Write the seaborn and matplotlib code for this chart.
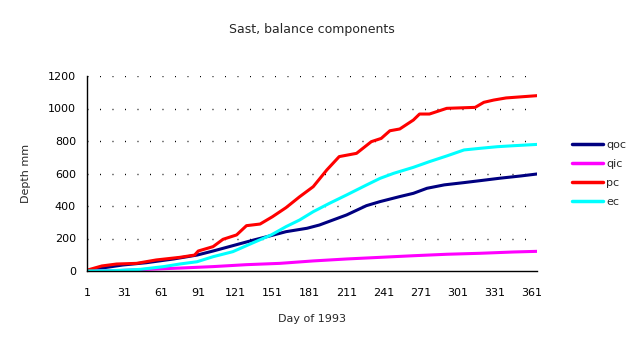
import matplotlib
matplotlib.use("Agg")
import matplotlib.pyplot as plt
import seaborn as sns
import pandas as pd

pc_day = [1, 13, 25, 41, 57, 76, 88, 91, 103, 111, 122, 130, 141, 151, 162, 173, 184, 195, 205, 219, 231, 239, 246, 254, 265, 270, 278, 292, 315, 322, 330, 340, 365]
pc_val = [5, 31, 43, 47, 68, 84, 98, 123, 150, 195, 222, 279, 289, 334, 390, 457, 519, 622, 704, 724, 796, 816, 863, 874, 929, 966, 966, 1001, 1007, 1038, 1052, 1065, 1079]

qoc_day = [1, 11, 30, 49, 71, 90, 103, 119, 136, 150, 162, 179, 189, 200, 211, 227, 238, 254, 265, 276, 290, 306, 319, 335, 352, 365]
qoc_val = [0, 16, 37, 51, 74, 98, 123, 156, 191, 218, 242, 263, 283, 314, 345, 402, 427, 458, 478, 509, 530, 544, 556, 571, 585, 597]

ec_day = [1, 22, 44, 63, 76, 90, 103, 119, 136, 150, 162, 173, 184, 197, 211, 227, 238, 249, 265, 278, 292, 306, 319, 333, 346, 365]
ec_val = [0, 2, 10, 27, 43, 57, 88, 119, 176, 222, 273, 314, 365, 416, 468, 529, 570, 601, 638, 673, 708, 745, 755, 765, 771, 779]

qic_day = [1, 25, 49, 76, 103, 130, 157, 184, 211, 238, 265, 292, 319, 346, 365]
qic_val = [0, 2, 10, 18, 27, 39, 47, 62, 74, 84, 94, 103, 109, 117, 121]

series = ["qoc", "qic", "pc", "ec"]
colors = ["#000080", "#FF00FF", "#FF0000", "#00FFFF"]
x_ticks = list(range(1, 362, 30))
y_ticks = list(range(0, 1201, 200))

frames = []
for name, d, v in [("qoc", qoc_day, qoc_val), ("qic", qic_day, qic_val),
                   ("pc", pc_day, pc_val), ("ec", ec_day, ec_val)]:
    frames.append(pd.DataFrame({"day": d, "depth": v, "series": name}))
df = pd.concat(frames, ignore_index=True)

sns.set_style("white")
plt.rcParams["font.family"] = ["DejaVu Sans"]

fig = plt.figure(figsize=(6.4, 3.49), dpi=100)
ax = fig.add_axes([87 / 640, 1 - 271 / 349, 450 / 640, 195 / 349])

# grid first (behind lines)
for yv in y_ticks[1:]:
    ax.axhline(yv, color="black", lw=1.0, linestyle=(0, (0.7, 8.3)), zorder=0)

sns.lineplot(data=df, x="day", y="depth", hue="series", hue_order=series,
             palette=colors, estimator=None, sort=False, linewidth=2.2, ax=ax)

ax.set_xlim(1, 365)
ax.set_ylim(0, 1200)
ax.set_xticks(x_ticks)
ax.set_yticks(y_ticks)
ax.tick_params(axis="x", direction="inout", length=8, width=1, labelsize=8, pad=8, colors="black")
ax.tick_params(axis="y", direction="out", length=4, width=1, labelsize=8, pad=4, colors="black")
for s in ["top", "right"]:
    ax.spines[s].set_visible(False)
for s in ["left", "bottom"]:
    ax.spines[s].set_color("black")
    ax.spines[s].set_linewidth(1)

ax.set_xlabel("Day of 1993", fontsize=8, labelpad=12)
ax.set_ylabel("Depth mm", fontsize=8, labelpad=12)
fig.text(312 / 640, 1 - 30 / 349, "Sast, balance components", ha="center", va="center", fontsize=9)

leg = ax.legend(loc="center left", bbox_to_anchor=(1.055, 0.5), frameon=False,
                fontsize=8, handlelength=2.8, handletextpad=0.3, labelspacing=0.8)
for line in leg.get_lines():
    line.set_linewidth(2.5)

fig.savefig("out.png", dpi=100)
